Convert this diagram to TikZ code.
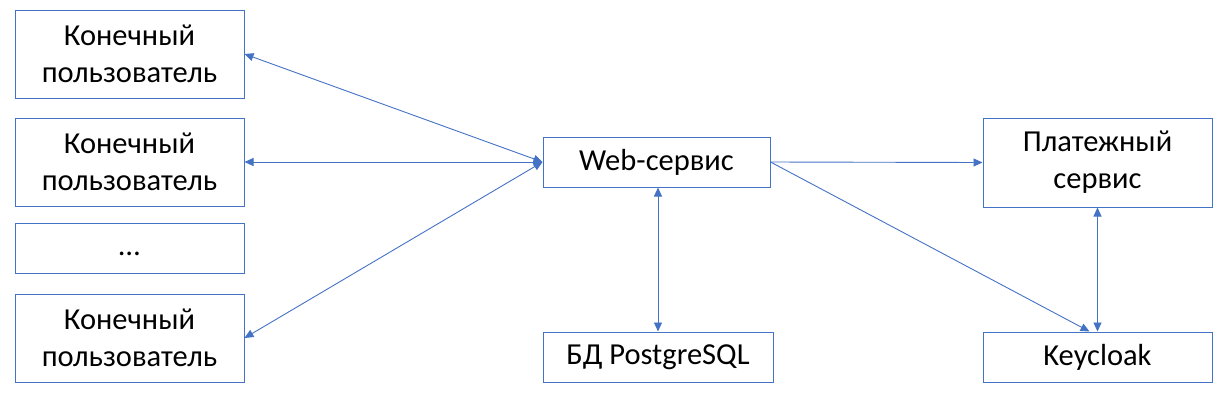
\documentclass[tikz,border=0pt]{standalone}
\usepackage{fontspec}
\setmainfont{Carlito}
\usetikzlibrary{arrows.meta}
\definecolor{boxblue}{HTML}{4472C4}
\tikzset{
  box/.style={draw=boxblue, line width=1pt, rectangle, minimum width=229pt, align=center, inner sep=0pt,
    font=\fontsize{30.5}{37}\selectfont, text=black},
  conn/.style={draw=boxblue, line width=0.9pt},
  tip/.tip={Triangle[length=9pt,width=8pt]},
}
\begin{document}
\begin{tikzpicture}[x=1pt,y=-1pt]
\useasboundingbox (0,0) rectangle (1226,405);
\node[box, minimum height=88pt] (u1) at (129.5,54) {Конечный\\пользователь};
\node[box, minimum height=88pt] (u2) at (129.5,162) {Конечный\\пользователь};
\node[box, minimum height=50pt] (dots) at (129.5,248) {\vphantom{Ky}…};
\node[box, minimum height=88pt] (u3) at (129.5,338) {Конечный\\пользователь};
\node[box, minimum width=227pt, minimum height=50pt] (web) at (656.5,162) {Web-сервис};
\node[box, minimum width=230pt, minimum height=50pt] (db) at (658,357) {БД PostgreSQL};
\node[box, minimum height=89pt] (pay) at (1097.5,162.5) {Платежный\\сервис};
\node[box, minimum height=50pt] (kc) at (1097.5,357) {Keycloak};

\draw[conn, {tip}-{tip}] (u1.east) -- (web.west);
\draw[conn, {tip}-{tip}] (u2.east) -- (web.west);
\draw[conn, {tip}-{tip}] (u3.east) -- (web.west);
\draw[conn, -{tip}] (web.east) -- (pay.west);
\draw[conn, -{tip}] (web.east) -- ([xshift=-8pt]kc.north);
\draw[conn, {tip}-{tip}] (pay.south) -- (kc.north);
\draw[conn, {tip}-{tip}] (web.south -| db.north) -- (db.north);
\end{tikzpicture}
\end{document}
